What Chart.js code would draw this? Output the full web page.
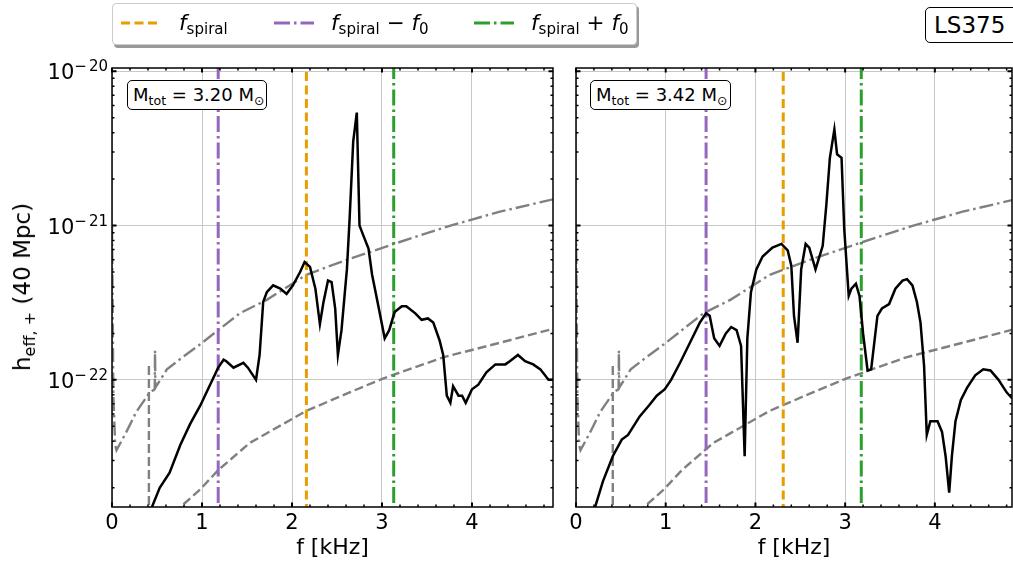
<!DOCTYPE html>
<html>
<head>
<meta charset="utf-8">
<script src="https://cdn.jsdelivr.net/npm/chart.js@4.4.1/dist/chart.umd.min.js"></script>
<style>
  body { margin: 0; width: 1013px; height: 563px; overflow: hidden; background: #fff;
         font-family: 'DejaVu Sans', sans-serif; position: relative; color: #000; }
  canvas { position: absolute; top: 0; }
  #left { left: 0; }
  #right { left: 560px; }
  sub { font-size: 70%; vertical-align: -0.28em; line-height: 0; }
  .box { position: absolute; background: #fff; border: 1px solid #000; border-radius: 5px;
         box-sizing: border-box; white-space: nowrap; }
  .mtot { top: 80px; height: 30px; font-size: 18px; line-height: 28px; padding-left: 5px; }
  #legend { position: absolute; left: 112px; top: 3px; width: 525px; height: 42px; box-sizing: border-box;
            border: 1px solid #ccc; border-radius: 4px; background: #fff; box-shadow: 2px 3px 0 #999; }
  #legend svg { position: absolute; top: 16px; }
  #legend span { position: absolute; top: 6px; font-size: 21.5px; line-height: 26px; white-space: nowrap; }
  #ylabel { position: absolute; left: 22px; top: 287px; font-size: 23px; white-space: nowrap;
            transform: translate(-50%, -50%) rotate(-90deg); }
</style>
</head>
<body>
<canvas id="left" width="560" height="563"></canvas>
<canvas id="right" width="460" height="563"></canvas>

<div id="legend">
  <svg style="left:8px" width="40" height="6"><line x1="0" y1="3" x2="40" y2="3" stroke="#e69f00" stroke-width="3" stroke-dasharray="9 4.5"/></svg>
  <span style="left:66px"><i>f</i><sub>spiral</sub></span>
  <svg style="left:161px" width="40" height="6"><line x1="0" y1="3" x2="40" y2="3" stroke="#9467bd" stroke-width="3" stroke-dasharray="16 4 2.5 4"/></svg>
  <span style="left:218px"><i>f</i><sub>spiral</sub> − <i>f</i><sub>0</sub></span>
  <svg style="left:361px" width="40" height="6"><line x1="0" y1="3" x2="40" y2="3" stroke="#2ca02c" stroke-width="3" stroke-dasharray="16 4 2.5 4"/></svg>
  <span style="left:418px"><i>f</i><sub>spiral</sub> + <i>f</i><sub>0</sub></span>
</div>

<div class="box" style="left:925px; top:7px; width:100px; height:36px; font-size:23px; line-height:34px; padding-left:8px;">LS375</div>
<div class="box mtot" style="left:127px; width:140px;">M<sub>tot</sub> = 3.20 M<sub>⊙</sub></div>
<div class="box mtot" style="left:590px; width:141px;">M<sub>tot</sub> = 3.42 M<sub>⊙</sub></div>
<div id="ylabel">h<sub>eff, +</sub> (40 Mpc)</div>

<script>
// spectrum, left panel (M_tot = 3.20)
var specF1 = [0.40,0.44,0.53,0.64,0.76,0.87,0.98,1.09,1.18,1.24,1.27,1.35,1.46,1.51,1.60,1.64,1.68,1.72,1.79,1.87,1.94,2.01,2.09,2.14,2.20,2.26,2.31,2.35,2.40,2.44,2.48,2.51,2.55,2.61,2.64,2.68,2.72,2.75,2.79,2.85,2.89,2.96,3.03,3.08,3.14,3.22,3.27,3.37,3.44,3.51,3.57,3.64,3.68,3.72,3.76,3.79,3.85,3.89,3.93,4.00,4.07,4.16,4.26,4.37,4.42,4.51,4.59,4.68,4.76,4.85,4.90];
var specH1 = [1.1e-23,1.48e-23,2.0e-23,2.5e-23,3.8e-23,5.2e-23,6.8e-23,9.3e-23,1.2e-22,1.35e-22,1.32e-22,1.2e-22,1.29e-22,1.2e-22,1.0e-22,1.45e-22,3.2e-22,3.7e-22,4.1e-22,3.9e-22,3.6e-22,4.1e-22,5.0e-22,5.8e-22,5.4e-22,3.9e-22,2.3e-22,3.2e-22,4.4e-22,4.3e-22,2.9e-22,1.45e-22,2.1e-22,5.2e-22,1.1e-21,3.5e-21,5.4e-21,1.0e-21,8.7e-22,7.1e-22,4.8e-22,3.0e-22,1.86e-22,2.1e-22,2.75e-22,3.0e-22,3.0e-22,2.7e-22,2.45e-22,2.5e-22,2.35e-22,1.8e-22,1.45e-22,7.9e-23,7.1e-23,9.1e-23,7.9e-23,7.9e-23,7.1e-23,8.7e-23,9.3e-23,1.12e-22,1.26e-22,1.26e-22,1.32e-22,1.45e-22,1.32e-22,1.26e-22,1.17e-22,1.0e-22,1.0e-22];

// spectrum, right panel (M_tot = 3.42)
var specF2 = [0.18,0.21,0.30,0.41,0.51,0.58,0.71,0.82,0.90,0.99,1.06,1.16,1.27,1.38,1.45,1.49,1.54,1.60,1.67,1.73,1.79,1.84,1.88,1.91,1.95,2.01,2.08,2.19,2.29,2.36,2.40,2.43,2.47,2.51,2.56,2.60,2.67,2.75,2.79,2.83,2.88,2.91,2.96,2.99,3.04,3.07,3.12,3.16,3.20,3.25,3.29,3.36,3.41,3.49,3.56,3.64,3.69,3.75,3.80,3.84,3.88,3.91,3.95,4.03,4.08,4.12,4.16,4.19,4.23,4.29,4.36,4.45,4.54,4.62,4.71,4.80,4.86];
var specH2 = [1.1e-23,1.48e-23,2.2e-23,3.2e-23,4.1e-23,4.4e-23,5.8e-23,6.9e-23,7.9e-23,8.7e-23,1.0e-22,1.29e-22,1.74e-22,2.35e-22,2.7e-22,2.6e-22,1.86e-22,1.66e-22,2.0e-22,2.2e-22,2.1e-22,1.66e-22,3.2e-23,1.86e-22,3.7e-22,5.2e-22,6.3e-22,7.2e-22,7.6e-22,6.9e-22,5.5e-22,2.6e-22,1.74e-22,5.2e-22,7.6e-22,7.2e-22,5.2e-22,7.4e-22,1.35e-21,2.75e-21,4.2e-21,2.9e-21,2.75e-21,9.5e-22,3.5e-22,3.9e-22,4.2e-22,3.5e-22,2.0e-22,1.15e-22,1.17e-22,2.6e-22,2.9e-22,3.1e-22,3.9e-22,4.4e-22,4.5e-22,4.1e-22,3.2e-22,2.35e-22,1.23e-22,4.4e-23,5.4e-23,5.4e-23,4.6e-23,3.2e-23,1.86e-23,3.2e-23,5.4e-23,7.4e-23,8.9e-23,1.07e-22,1.17e-22,1.15e-22,1.0e-22,8.3e-23,7.6e-23];

// detector curves (same in both panels)
var noiseAF = [0,0.015,0.035,0.05,0.16,0.27,0.42,0.475,0.478,0.482,0.61,0.79,0.98,1.18,1.42,1.72,2.16,2.61,3.13,3.76,4.31,4.9];
var noiseAH = [1e-21,7.9e-23,3.8e-23,3.5e-23,4.6e-23,6.2e-23,8.3e-23,8.7e-23,1.55e-22,8.9e-23,1.17e-22,1.41e-22,1.7e-22,2.1e-22,2.7e-22,3.3e-22,4.8e-22,6.0e-22,7.6e-22,1.0e-21,1.23e-21,1.48e-21];
var noiseBF = [0.41,0.41,0.6,0.76,0.98,1.18,1.53,2.16,2.64,3.01,3.68,4.31,4.9];
var noiseBH = [1.23e-22,5e-24,1.0e-23,1.5e-23,1.95e-23,2.6e-23,3.9e-23,6.3e-23,8.3e-23,1.02e-22,1.4e-22,1.74e-22,2.14e-22];

// vertical markers [left, right]
var spiralF = [2.16, 2.31];
var minusF = [1.18, 1.45];
var plusF = [3.13, 3.18];

var xTicks = [0, 1, 2, 3, 4];
var yTicks = [1e-22, 1e-21, 1e-20];
var yMin = 1.5e-23, yMax = 1.05e-20;

Chart.defaults.font.family = "'DejaVu Sans', sans-serif";
Chart.defaults.font.size = 21;
Chart.defaults.color = '#000';

function pts(fs, hs) {
  return fs.map(function (f, i) { return {x: f, y: hs[i]}; });
}
function vline(f) {
  return [{x: f, y: 1e-24}, {x: f, y: 1e-19}];
}

// frame, inward ticks on all four sides, 10^n labels with a real superscript
var frameTicks = {
  id: 'frameTicks',
  afterDatasetsDraw: function (chart, args, opts) {
    var ctx = chart.ctx, a = chart.chartArea, x = chart.scales.x, y = chart.scales.y;
    ctx.save();
    ctx.strokeStyle = '#000';
    ctx.lineWidth = 1.5;
    ctx.beginPath();
    for (var v = 0.2; v < x.max; v += 0.2) {
      if (Math.abs(v - Math.round(v)) < 1e-6) continue;
      var px = x.getPixelForValue(v);
      ctx.moveTo(px, a.bottom); ctx.lineTo(px, a.bottom - 2.5);
      ctx.moveTo(px, a.top); ctx.lineTo(px, a.top + 2.5);
    }
    for (var d = -24; d <= -20; d++) {
      for (var k = 2; k <= 9; k++) {
        var val = k * Math.pow(10, d);
        if (val < y.min || val > y.max) continue;
        var py = y.getPixelForValue(val);
        ctx.moveTo(a.left, py); ctx.lineTo(a.left + 2.5, py);
        ctx.moveTo(a.right, py); ctx.lineTo(a.right - 2.5, py);
      }
    }
    ctx.stroke();
    ctx.lineWidth = 2;
    ctx.beginPath();
    xTicks.forEach(function (t) {
      var px = x.getPixelForValue(t);
      ctx.moveTo(px, a.bottom); ctx.lineTo(px, a.bottom - 4.5);
      ctx.moveTo(px, a.top); ctx.lineTo(px, a.top + 4.5);
    });
    yTicks.forEach(function (t) {
      var py = y.getPixelForValue(t);
      ctx.moveTo(a.left, py); ctx.lineTo(a.left + 4.5, py);
      ctx.moveTo(a.right, py); ctx.lineTo(a.right - 4.5, py);
    });
    ctx.stroke();
    ctx.lineWidth = 1.5;
    ctx.strokeRect(a.left, a.top, a.right - a.left, a.bottom - a.top);

    if (opts.yLabels) {
      ctx.fillStyle = '#000';
      ctx.textAlign = 'left';
      ctx.textBaseline = 'alphabetic';
      yTicks.forEach(function (t) {
        var py = y.getPixelForValue(t);
        var e = String(Math.round(Math.log10(t)));
        ctx.font = "21px 'DejaVu Sans'";
        var wBase = ctx.measureText('10').width;
        ctx.font = "15px 'DejaVu Sans'";
        var wMinus = ctx.measureText('−').width;
        var wExp = ctx.measureText(e.slice(1)).width;
        var x0 = a.left - 4 - (wBase + wMinus + 2 + wExp);
        ctx.font = "21px 'DejaVu Sans'";
        ctx.fillText('10', x0, py + 8);
        ctx.font = "15px 'DejaVu Sans'";
        ctx.fillText('−', x0 + wBase, py);
        ctx.fillText(e.slice(1), x0 + wBase + wMinus + 2, py);
      });
    }
    ctx.restore();
  }
};

function makePanel(id, specF, specH, k, xMax, yWidth, padRight, showY) {
  var datasets = [
    {data: pts(specF, specH), borderColor: '#000', borderWidth: 2.5},
    {data: vline(minusF[k]), borderColor: '#9467bd', borderWidth: 3, borderDash: [16, 4, 2.5, 4]},
    {data: vline(spiralF[k]), borderColor: '#e69f00', borderWidth: 3, borderDash: [9, 4.5]},
    {data: vline(plusF[k]), borderColor: '#2ca02c', borderWidth: 3, borderDash: [16, 4, 2.5, 4]},
    {data: pts(noiseAF, noiseAH), borderColor: '#808080', borderWidth: 2.4, borderDash: [14, 4, 2.5, 4]},
    {data: pts(noiseBF, noiseBH), borderColor: '#808080', borderWidth: 2.4, borderDash: [9, 4]}
  ];
  datasets.forEach(function (ds) {
    ds.showLine = true; ds.pointRadius = 0; ds.fill = false; ds.tension = 0; ds.clip = 0;
  });
  return new Chart(document.getElementById(id), {
    type: 'scatter',
    data: {datasets: datasets},
    options: {
      responsive: false,
      animation: false,
      events: [],
      layout: {padding: {left: 0, right: padRight, top: 68, bottom: 0}},
      plugins: {legend: {display: false}, tooltip: {enabled: false}, frameTicks: {yLabels: showY}},
      scales: {
        x: {
          type: 'linear', min: 0, max: xMax,
          afterBuildTicks: function (s) { s.ticks = xTicks.map(function (v) { return {value: v}; }); },
          afterFit: function (s) { s.height = 56; },
          grid: {color: '#c8c8c8', lineWidth: 1, drawTicks: false},
          border: {display: false},
          ticks: {padding: 4, maxRotation: 0, callback: function (v) { return String(v); }},
          title: {display: true, text: 'f [kHz]', font: {size: 22}, padding: {top: 0, bottom: 2}}
        },
        y: {
          type: 'logarithmic', min: yMin, max: yMax,
          afterBuildTicks: function (s) { s.ticks = yTicks.map(function (v) { return {value: v}; }); },
          afterFit: function (s) { s.width = yWidth; },
          grid: {color: '#c8c8c8', lineWidth: 1, drawTicks: false},
          border: {display: false},
          ticks: {display: false}
        }
      }
    },
    plugins: [frameTicks]
  });
}

makePanel('left', specF1, specH1, 0, 4.9, 112, 7, true);
makePanel('right', specF2, specH2, 1, 4.86, 16, 8, false);
</script>
</body>
</html>
